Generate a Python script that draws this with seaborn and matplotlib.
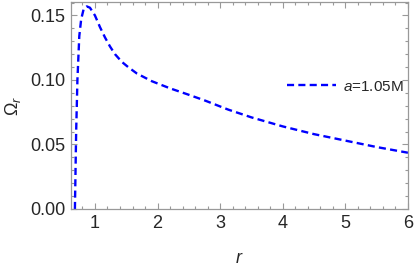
import matplotlib
matplotlib.use("Agg")
import matplotlib.pyplot as plt
from matplotlib.ticker import MultipleLocator
import pandas as pd
import seaborn as sns

# values
R_VALUES = [0.68, 0.69, 0.70, 0.72, 0.75, 0.78, 0.82, 0.87, 0.92, 1.0, 1.08,
            1.16, 1.24, 1.32, 1.43, 1.53, 1.67, 1.77, 1.91, 2.2, 2.47, 2.76,
            3.13, 3.5, 4.0, 4.5, 5.0, 5.5, 6.0]
OMEGA_R = [0.0, 0.03, 0.06, 0.10, 0.134, 0.147, 0.155, 0.157, 0.156, 0.150,
           0.141, 0.133, 0.126, 0.120, 0.114, 0.110, 0.105, 0.1025, 0.099,
           0.0935, 0.089, 0.084, 0.077, 0.071, 0.064, 0.058, 0.053, 0.048,
           0.0436]
SERIES_LABEL = "$a$=1.05M"
X_TICKS = [1, 2, 3, 4, 5, 6]
Y_TICKS = [0.00, 0.05, 0.10, 0.15]

sns.set_style("ticks")
plt.rcParams["font.family"] = ["Liberation Sans", "DejaVu Sans"]
plt.rcParams["mathtext.fontset"] = "custom"
plt.rcParams["mathtext.rm"] = "Liberation Sans"
plt.rcParams["mathtext.it"] = "Liberation Sans:italic"

df = pd.DataFrame({"r": R_VALUES, "omega": OMEGA_R})

fig = plt.figure(figsize=(4.15, 2.70), dpi=100)
ax = fig.add_axes([0.171, 0.226, 0.812, 0.767])

sns.lineplot(data=df, x="r", y="omega", ax=ax, color="#0000ff",
             linewidth=1.7, linestyle=(0, (3.0, 1.8)), label=SERIES_LABEL,
             sort=False)

ax.set_xlim(0.617, 6.0)
ax.set_ylim(0.0, 0.1605)
ax.set_xticks(X_TICKS)
ax.set_yticks(Y_TICKS)
ax.set_yticklabels([f"{v:.2f}" for v in Y_TICKS])
ax.xaxis.set_minor_locator(MultipleLocator(0.2))
ax.yaxis.set_minor_locator(MultipleLocator(0.01))

frame_col = "#999999"
for sp in ax.spines.values():
    sp.set_color(frame_col)
    sp.set_linewidth(0.9)
ax.tick_params(which="both", direction="in", top=True, right=True,
               color=frame_col, width=0.8)
ax.tick_params(which="major", length=4.5, labelsize=13, pad=4)
ax.tick_params(which="minor", length=2.5)

ax.set_xlabel("$r$", fontsize=13, labelpad=13)
ax.set_ylabel(r"$\Omega_r$", fontsize=13, labelpad=5)

ax.legend(loc="center left", bbox_to_anchor=(0.61, 0.59), frameon=False,
          fontsize=11, handlelength=3.2, handletextpad=0.45, borderpad=0.2)

fig.savefig("out.png", dpi=100)
